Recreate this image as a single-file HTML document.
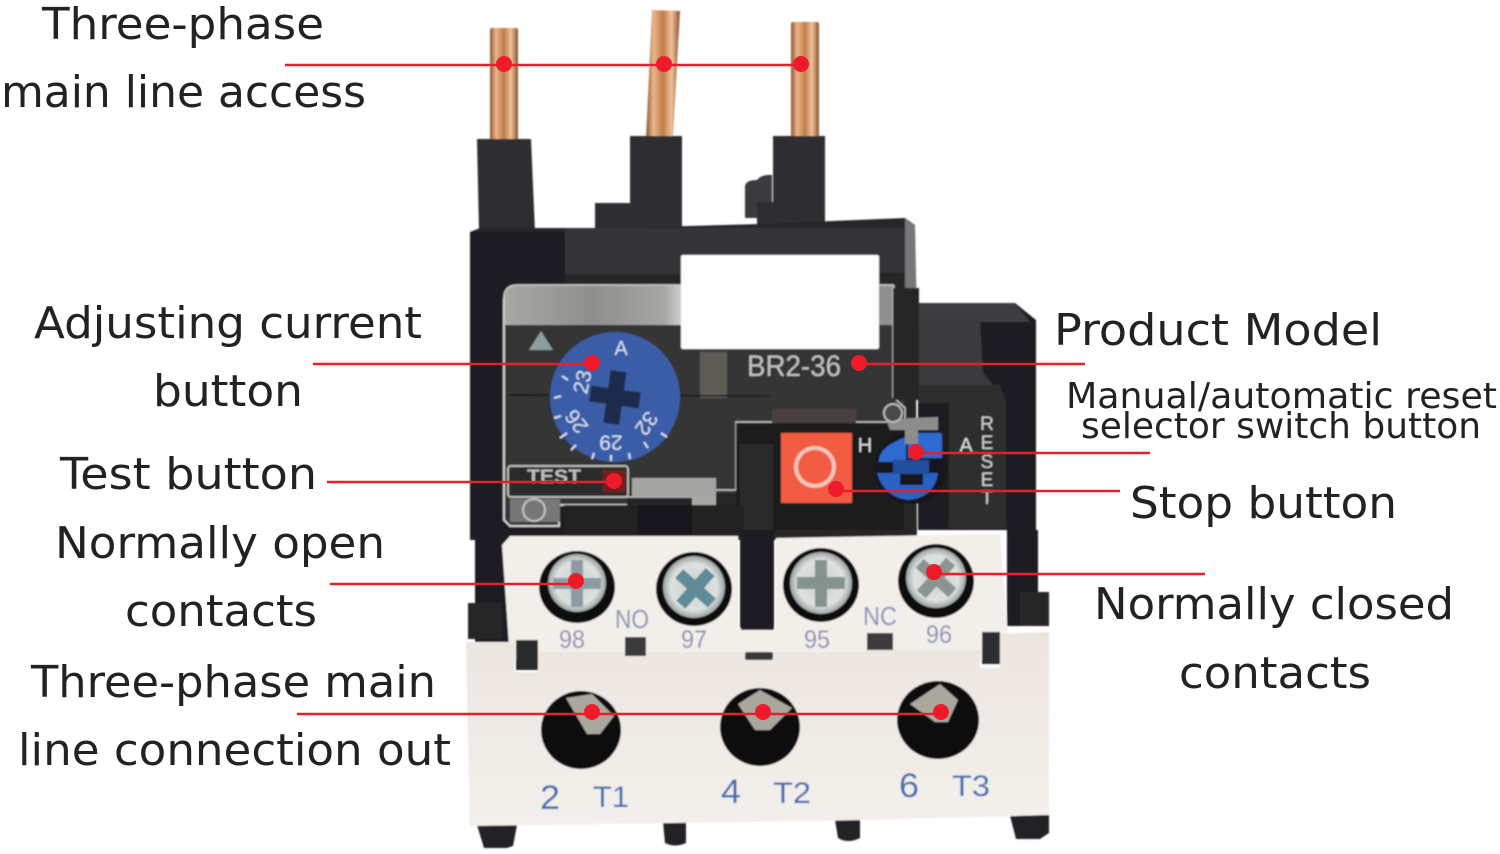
<!DOCTYPE html>
<html><head><meta charset="utf-8"><style>
html,body{margin:0;padding:0;background:#fff;width:1500px;height:854px;overflow:hidden}
svg{display:block}
.l{font-family:"DejaVu Sans","Liberation Sans",sans-serif;font-size:44px;fill:#222}
.s{font-family:"DejaVu Sans","Liberation Sans",sans-serif;font-size:36px;fill:#222}
.p{font-family:"Liberation Sans",sans-serif}
</style></head><body>
<svg width="1500" height="854" viewBox="0 0 1500 854" xmlns="http://www.w3.org/2000/svg">
<defs>
<linearGradient id="cu" x1="0" x2="1" y1="0" y2="0"><stop offset="0" stop-color="#8f5330"/><stop offset=".22" stop-color="#eab78c"/><stop offset=".5" stop-color="#c07c48"/><stop offset=".75" stop-color="#efc29a"/><stop offset="1" stop-color="#8a5030"/></linearGradient>
<linearGradient id="cream" x1="0" x2="0" y1="0" y2="1"><stop offset="0" stop-color="#ebe5e0"/><stop offset="1" stop-color="#f3efeb"/></linearGradient>
<radialGradient id="scr"><stop offset="0" stop-color="#c6cfcd"/><stop offset=".75" stop-color="#dde2e0"/><stop offset="1" stop-color="#9aa2a1"/></radialGradient>
<linearGradient id="band" x1="0" x2="1" y1="0" y2="0"><stop offset="0" stop-color="#a8a8a6"/><stop offset=".5" stop-color="#8e8e8c"/><stop offset=".9" stop-color="#a6a6a4"/><stop offset="1" stop-color="#d0d0ce"/></linearGradient>
<filter id="b1"><feGaussianBlur stdDeviation="0.7"/></filter>
</defs>

<g filter="url(#b1)">
<!-- copper pins -->
<rect x="490" y="28" width="28" height="112" rx="2" fill="url(#cu)"/>
<path d="M652 10L680 11L673 138L646 138Z" fill="url(#cu)"/>
<rect x="791" y="22" width="28" height="116" rx="2" fill="url(#cu)"/>

<!-- top terminal blocks -->
<path d="M477 139H531L535 232H479Z" fill="#2f2f31"/>
<path d="M630 136H682V232H595V203H630Z" fill="#2f2f31"/>
<path d="M773 136H825V232H757V202H773Z" fill="#2f2f31"/>
<path d="M745 218V186Q746 180 757 180Q762 174 772 175V202H757V218Z" fill="#3a3a3c"/>

<!-- main body -->
<path d="M470 232L480 228H620L760 224L905 218L915 225L917 540H470Z" fill="#252527"/>
<path d="M905 218L915 225L917 320H905Z" fill="#77777a"/>
<path d="M565 228H904V272L690 274H565Z" fill="#353537"/>
<path d="M470 232H565V540H470Z" fill="#1f1f21"/>

<!-- right block -->
<path d="M918 303H1015L1036 320V530H918Z" fill="#1e1e20"/>
<path d="M918 303H1015L1030 322H918Z" fill="#3e3e40"/>
<path d="M915 322H980L983 373L1006 400H915Z" fill="#3a3a3c"/>
<path d="M918 385H1000L1006 403V528H949V403H918Z" fill="#2d2d2f"/>

<!-- cover plate -->
<path d="M504 298Q504 285 518 285H682V325H504Z" fill="url(#band)"/>
<path d="M879 285H895V325H879Z" fill="#8f8f8d"/>
<path d="M504 325H893V397H904V420L736 423V493H627V505H560V526H510L504 520Z" fill="#343436"/>
<path d="M504 298Q504 285 518 285H893V397L905 408V422H736V490H715V520H693V497H627" fill="none" stroke="#c9c9c7" stroke-width="1.5"/>
<path d="M504 298V520L510 526H559V505H627" fill="none" stroke="#cfcfcd" stroke-width="2"/>
<rect x="893" y="288" width="26" height="112" fill="#262628"/>
<path d="M632 478H716V497H632Z" fill="#a4a4a2"/>
<rect x="693" y="497" width="22" height="22" fill="#a8a8a6"/>
<rect x="700" y="352" width="27" height="46" fill="#5f5c58"/>
<path d="M510 395L770 396" stroke="#161618" stroke-width="1.5"/>
<path d="M529 350L541 331L553 350Z" fill="#8a9ea0"/>
<rect x="772" y="409" width="84" height="16" fill="#4b4040"/>

<!-- white label -->
<rect x="681" y="255" width="198" height="94" rx="2" fill="#fdfdfd"/>

<!-- lower dark recess -->
<rect x="736" y="423" width="168" height="107" fill="#1c1c1e"/>
<rect x="740" y="444" width="33" height="190" fill="#29292b"/>
<rect x="564" y="505" width="180" height="32" fill="#222224"/>
<rect x="638" y="505" width="54" height="30" fill="#18181a"/>

<!-- dial -->
<circle cx="615" cy="397" r="65" fill="#3b5da8"/>
<path d="M607 371H623V389H640V405H623V424H607V405H590V389H607Z" transform="rotate(8 615 397)" fill="#1e2a4c"/>
<g class="p" fill="#d8dfee" font-size="21" text-anchor="middle" dominant-baseline="central">
<text x="621" y="349" font-size="20">A</text>
<text transform="translate(583 382) rotate(-78)">23</text>
<text transform="translate(577 421) rotate(-128)">26</text>
<text transform="translate(611 442) rotate(180)">29</text>
<text transform="translate(646 423) rotate(125)">32</text>
</g>
<g stroke="#d8dfee" stroke-width="2">
<path d="M562 376L568 380M554 398L561 396M554 418L561 416M560 438L567 433M571 450L576 445M592 459L594 453M611 461V455M630 459L629 453M648 448L644 442M667 437L661 433"/>
</g>

<!-- test -->
<rect x="508" y="466" width="120" height="31" rx="3" fill="#2a2a2c" stroke="#b8b8b6" stroke-width="2"/>
<text class="p" x="527" y="483" font-size="19" font-weight="bold" fill="#bfbfbf" textLength="54" lengthAdjust="spacingAndGlyphs">TEST</text>
<rect x="603" y="470" width="22" height="22" fill="#7a1f1c"/>
<path d="M510 499H560V522H510Z" fill="#77777a"/>
<circle cx="534" cy="510" r="11" fill="#777" stroke="#c4c4c2" stroke-width="2"/>

<!-- red button -->
<rect x="781" y="433" width="71" height="70" fill="#f25c42"/>
<circle cx="815" cy="467" r="19" fill="#f25c42" stroke="#f3c6bb" stroke-width="4"/>

<!-- blue knob -->
<circle cx="911" cy="468" r="36" fill="#18181a"/>
<path d="M908 433H940Q942 433 942 436V458H908Z" fill="#2f6bd0"/>
<path d="M906 437V462H879Q878 447 906 437Z" fill="#2f6bd0"/>
<path d="M877 473H900V485H923V473H938Q934 498 908 500Q884 497 877 473Z" fill="#2a62c4"/>
<rect x="893" y="460" width="36" height="14" fill="#244f9c"/>
<path d="M886 419L938 417V430H918V444H905V430H890Z" fill="#8d8d8b"/>
<circle cx="893" cy="413" r="9" fill="#4a4a4a" stroke="#b9b9b7" stroke-width="2"/>

<!-- panel lettering -->
<text class="p" x="747" y="376" font-size="30" fill="#c2c2c0" textLength="94" lengthAdjust="spacingAndGlyphs">BR2-36</text>
<text class="p" x="865" y="452" font-size="20" fill="#dcdcdc" text-anchor="middle">H</text>
<text class="p" x="966" y="452" font-size="20" fill="#dcdcdc" text-anchor="middle">A</text>
<g class="p" font-size="19" fill="#d0d0d0" text-anchor="middle">
<text x="987" y="430">R</text><text x="987" y="449">E</text><text x="987" y="468">S</text><text x="987" y="486">E</text><text x="987" y="504">T</text>
</g>

<!-- sides -->
<rect x="475" y="530" width="36" height="112" fill="#1e1e20"/>
<rect x="1007" y="530" width="31" height="96" fill="#1e1e20"/>
<rect x="468" y="603" width="34" height="36" fill="#262628"/>
<rect x="1020" y="592" width="29" height="34" fill="#262628"/>

<!-- contact strip -->
<path d="M502 545L510 536H738V628H776V538L1000 534L1007 625V660L510 660Z" fill="#f2eee9"/>
<rect x="741" y="530" width="33" height="100" fill="#1e1e20"/>

<!-- screws -->
<g>
<ellipse cx="577" cy="587" rx="38" ry="36" fill="#111"/><circle cx="577" cy="583" r="29" fill="url(#scr)"/>
<path d="M571 560H583V578H601V589H583V607H571V589H553V578H571Z" fill="#8d9aa0"/>
<ellipse cx="694" cy="589" rx="38" ry="37" fill="#111"/><circle cx="694" cy="587" r="31" fill="url(#scr)"/>
<path d="M690 565H702V581H718V593H702V609H690V593H674V581H690Z" transform="rotate(42 694 587)" fill="#5f8a98"/>
<ellipse cx="821" cy="585" rx="38" ry="37" fill="#111"/><circle cx="821" cy="583" r="31" fill="url(#scr)"/>
<path d="M815 560H827V577H845V589H827V607H815V589H797V577H815Z" fill="#85938f"/>
<ellipse cx="936" cy="581" rx="38" ry="37" fill="#111"/><circle cx="936" cy="578" r="30" fill="url(#scr)"/>
<path d="M930 556H942V572H958V584H942V600H930V584H914V572H930Z" transform="rotate(42 936 578)" fill="#8a9590"/>
</g>

<g class="p" font-size="26" fill="#8a92b4" text-anchor="middle">
<text x="632" y="628" textLength="34" lengthAdjust="spacingAndGlyphs">NO</text>
<text x="880" y="625" textLength="34" lengthAdjust="spacingAndGlyphs">NC</text>
<text x="572" y="648" font-size="25" textLength="26" lengthAdjust="spacingAndGlyphs">98</text>
<text x="694" y="648" font-size="25" textLength="26" lengthAdjust="spacingAndGlyphs">97</text>
<text x="817" y="648" font-size="25" textLength="26" lengthAdjust="spacingAndGlyphs">95</text>
<text x="939" y="643" font-size="25" textLength="26" lengthAdjust="spacingAndGlyphs">96</text>
</g>

<!-- feet -->
<path d="M477 825H517L513 846L507 848H484Z" fill="#232325"/>
<path d="M663 822H686V843Q675 848 665 843Z" fill="#232325"/>
<path d="M835 820H860V838Q848 844 838 838Z" fill="#232325"/>
<path d="M1009 812H1049V833L1040 839H1016Z" fill="#232325"/>

<!-- lower block -->
<path d="M466 642H515V672H538V652H625V655H646V652H745V656H773V652H865V650H893V650H980V668H1000V634L1049 632V815L870 820L470 826Z" fill="url(#cream)"/>
<rect x="516" y="640" width="22" height="30" fill="#2a2a2c"/>
<rect x="625" y="637" width="21" height="19" fill="#3a3a3c"/>
<rect x="745" y="652" width="28" height="8" rx="2" fill="#38383a"/>
<rect x="867" y="633" width="26" height="17" fill="#3a3a3c"/>
<rect x="982" y="632" width="18" height="32" fill="#2e2e30"/>

<!-- holes -->
<ellipse cx="581" cy="730" rx="40" ry="39" fill="#111"/>
<ellipse cx="760" cy="727" rx="40" ry="39" fill="#111"/>
<ellipse cx="938" cy="720" rx="41" ry="39" fill="#111"/>
<path d="M566 698L592 694L614 716L600 734H587Z" fill="#aaa79f"/>
<path d="M738 704L760 690L792 708L770 730H755Z" fill="#aaa79f"/>
<path d="M910 704L940 684L958 700L948 722H935Z" fill="#aaa79f"/>

<g class="p" fill="#3d6bb2" font-size="34">
<text x="540" y="809" textLength="20" lengthAdjust="spacingAndGlyphs">2</text>
<text x="593" y="807" font-size="30" textLength="36" lengthAdjust="spacingAndGlyphs">T1</text>
<text x="721" y="803" textLength="20" lengthAdjust="spacingAndGlyphs">4</text>
<text x="773" y="803" font-size="30" textLength="38" lengthAdjust="spacingAndGlyphs">T2</text>
<text x="899" y="797" textLength="20" lengthAdjust="spacingAndGlyphs">6</text>
<text x="952" y="796" font-size="30" textLength="38" lengthAdjust="spacingAndGlyphs">T3</text>
</g>
</g>

<!-- connectors -->
<g stroke="#e5202a" stroke-width="2.5" fill="none">
<path d="M285 65H802"/>
<path d="M313 364H592"/>
<path d="M859 364H1085"/>
<path d="M327 482H614"/>
<path d="M916 453H1150"/>
<path d="M831 491H1120"/>
<path d="M330 584H576"/>
<path d="M934 574H1205"/>
<path d="M297 714H941"/>
</g>
<g fill="#ee1c2a">
<circle cx="504" cy="64" r="8"/><circle cx="664" cy="64" r="8"/><circle cx="801" cy="64" r="8"/>
<circle cx="592" cy="363" r="8"/><circle cx="859" cy="363" r="8"/>
<circle cx="614" cy="481" r="8"/><circle cx="916" cy="452" r="8"/><circle cx="836" cy="489" r="8"/>
<circle cx="576" cy="581" r="8"/><circle cx="934" cy="572" r="8"/>
<circle cx="592" cy="712" r="8"/><circle cx="763" cy="712" r="8"/><circle cx="941" cy="712" r="8"/>
</g>

<!-- labels -->
<g>
<text class="l" x="42" y="39" textLength="282" lengthAdjust="spacingAndGlyphs">Three-phase</text>
<text class="l" x="1" y="107" textLength="365" lengthAdjust="spacingAndGlyphs">main line access</text>
<text class="l" x="34" y="338" textLength="388" lengthAdjust="spacingAndGlyphs">Adjusting current</text>
<text class="l" x="153" y="406" textLength="150" lengthAdjust="spacingAndGlyphs">button</text>
<text class="l" x="60" y="489" textLength="257" lengthAdjust="spacingAndGlyphs">Test button</text>
<text class="l" x="55" y="558" textLength="330" lengthAdjust="spacingAndGlyphs">Normally open</text>
<text class="l" x="125" y="626" textLength="192" lengthAdjust="spacingAndGlyphs">contacts</text>
<text class="l" x="31" y="697" textLength="405" lengthAdjust="spacingAndGlyphs">Three-phase main</text>
<text class="l" x="18" y="765" textLength="433" lengthAdjust="spacingAndGlyphs">line connection out</text>
<text class="l" x="1054" y="345" textLength="328" lengthAdjust="spacingAndGlyphs">Product Model</text>
<text class="s" x="1066" y="408" textLength="431" lengthAdjust="spacingAndGlyphs">Manual/automatic reset</text>
<text class="s" x="1081" y="438" textLength="400" lengthAdjust="spacingAndGlyphs">selector switch button</text>
<text class="l" x="1130" y="518" textLength="267" lengthAdjust="spacingAndGlyphs">Stop button</text>
<text class="l" x="1094" y="619" textLength="360" lengthAdjust="spacingAndGlyphs">Normally closed</text>
<text class="l" x="1179" y="688" textLength="192" lengthAdjust="spacingAndGlyphs">contacts</text>
</g>
</svg>
</body></html>
